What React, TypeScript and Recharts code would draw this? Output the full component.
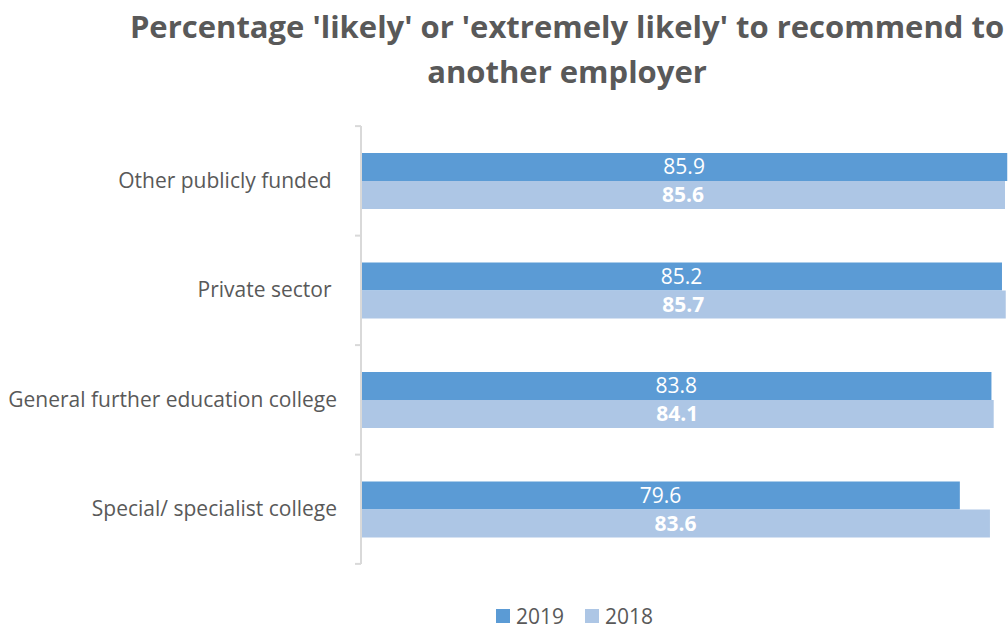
import { BarChart, Bar, XAxis, YAxis, Legend, LabelList } from 'recharts';

const categories = [
    'Other publicly funded ',
    'Private sector ',
    'General further education college',
    'Special/ specialist college',
];
const values2019 = [85.9, 85.2, 83.8, 79.6];
const values2018 = [85.6, 85.7, 84.1, 83.6];
const seriesNames = ['2019', '2018'];

const COLORS = ['#5B9BD5', '#ADC6E5'];
const FONT = '"Open Sans", sans-serif';

const data = categories.map((name, i) => ({
    name,
    y2019: values2019[i],
    y2018: values2018[i],
}));

const BAND = 109.25;

const CategoryTick = (props: any) => {
    const { x, y, payload, index } = props;
    const axisX = x + 8;
    return (
        <g>
            <line x1={axisX - 6} x2={axisX} y1={y - BAND / 2} y2={y - BAND / 2} stroke="#D9D9D9" strokeWidth={2} />
            {index === categories.length - 1 && (
                <line x1={axisX - 6} x2={axisX} y1={y + BAND / 2} y2={y + BAND / 2} stroke="#D9D9D9" strokeWidth={2} />
            )}
            <text
                x={axisX - 24}
                y={y}
                dy={7}
                textAnchor="end"
                fill="#595959"
                fontSize={21}
                fontFamily={FONT}
                style={{ whiteSpace: 'pre' }}
            >
                {payload.value}
            </text>
        </g>
    );
};

const LegendContent = () => (
    <div style={{ display: 'flex', paddingLeft: 496, fontFamily: FONT, fontSize: 21, color: '#595959' }}>
        {seriesNames.map((name, i) => (
            <div key={name} style={{ display: 'flex', alignItems: 'center', marginRight: 21 }}>
                <span style={{ width: 14, height: 14, background: COLORS[i], marginRight: 6 }} />
                <span>{name}</span>
            </div>
        ))}
    </div>
);

export default function App() {
    return (
        <div style={{ position: 'absolute', left: 0, top: 0, width: 1008, height: 630, background: '#fff' }}>
            <div
                style={{
                    position: 'absolute',
                    left: 126,
                    width: 882,
                    top: 4,
                    textAlign: 'center',
                    fontFamily: FONT,
                    fontWeight: 700,
                    fontSize: 31,
                    lineHeight: '45px',
                    color: '#595959',
                    whiteSpace: 'nowrap',
                }}
            >
                Percentage 'likely' or 'extremely likely' to recommend to
                <br />
                another employer
            </div>
            <BarChart
                width={1008}
                height={630}
                data={data}
                layout="vertical"
                margin={{ top: 126, right: 0, bottom: 40, left: 0 }}
                barSize={28}
                barGap={0}
                style={{ position: 'absolute', left: 0, top: 0 }}
            >
                <XAxis type="number" domain={[0, 86]} hide />
                <YAxis
                    type="category"
                    dataKey="name"
                    width={361}
                    axisLine={{ stroke: '#D9D9D9', strokeWidth: 2 }}
                    tickLine={false}
                    tick={<CategoryTick />}
                    interval={0}
                />
                <Legend
                    verticalAlign="bottom"
                    content={<LegendContent />}
                    wrapperStyle={{ left: 0, width: 1008, bottom: 2, height: 26 }}
                />
                <Bar dataKey="y2019" name={seriesNames[0]} fill={COLORS[0]} isAnimationActive={false}>
                    <LabelList dataKey="y2019" position="center" fill="#fff" fontSize={21} fontFamily={FONT} />
                </Bar>
                <Bar dataKey="y2018" name={seriesNames[1]} fill={COLORS[1]} isAnimationActive={false}>
                    <LabelList
                        dataKey="y2018"
                        position="center"
                        fill="#fff"
                        fontSize={21}
                        fontWeight={700}
                        fontFamily={FONT}
                    />
                </Bar>
            </BarChart>
        </div>
    );
}
